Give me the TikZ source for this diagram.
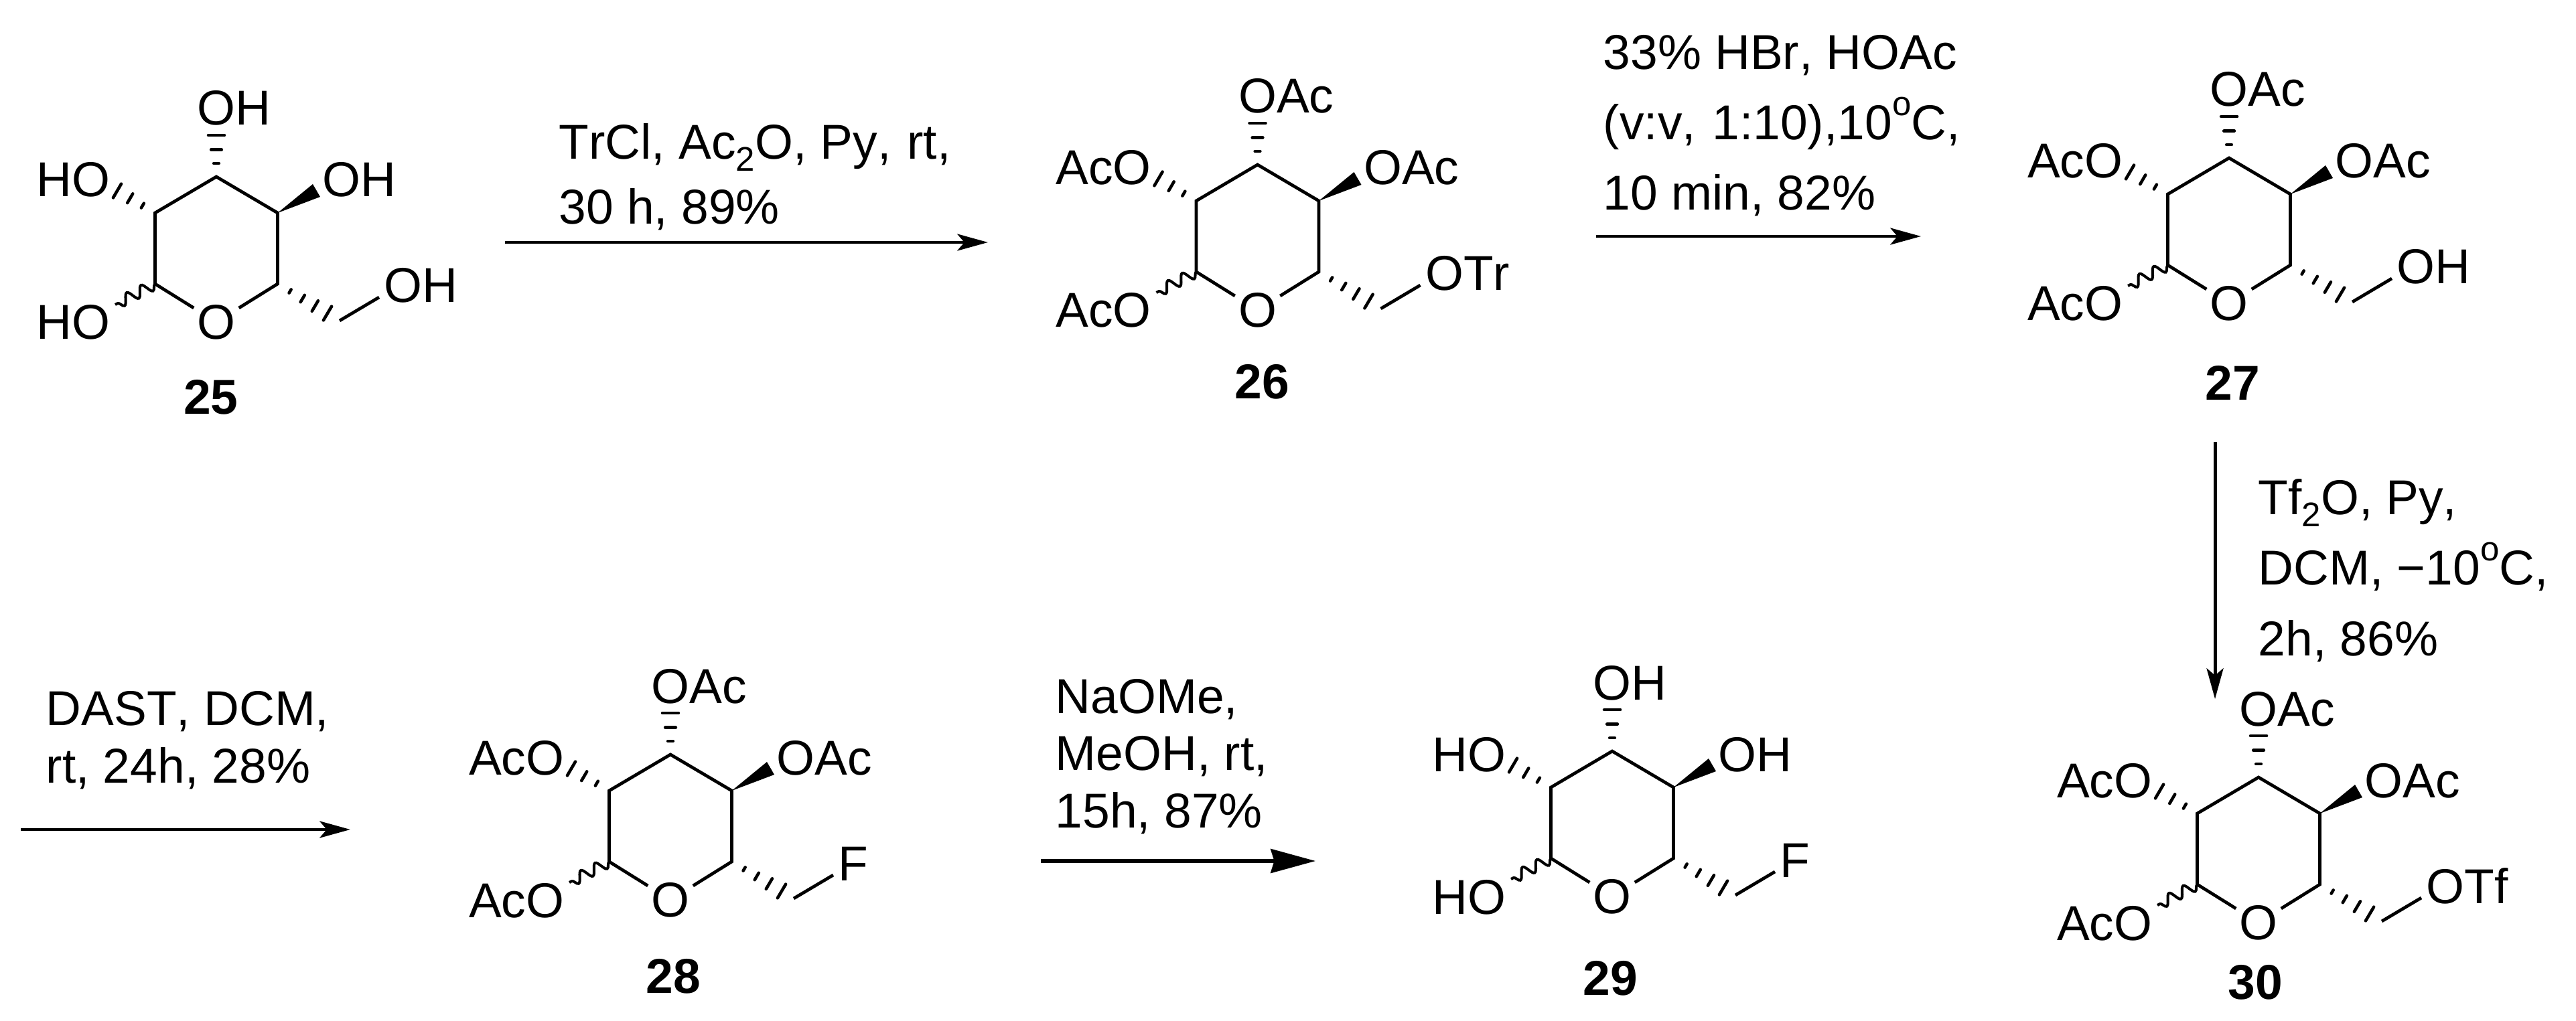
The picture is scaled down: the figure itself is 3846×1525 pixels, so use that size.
\documentclass[tikz,border=0pt]{standalone}
\usepackage{fontspec}
\setmainfont[Kerning=Off]{Liberation Sans}
\usetikzlibrary{calc}
\usetikzlibrary{arrows.meta}
\usetikzlibrary{decorations.pathmorphing}

\newcommand{\chemfont}{\fontsize{20.8}{25}\selectfont}
\newcommand{\lowtwo}{\raisebox{-0.24em}{\fontsize{14.5}{14.5}\selectfont 2}}
\newcommand{\highoh}{\raisebox{0.5em}{\fontsize{14.5}{14.5}\selectfont o}}

\tikzset{
    bond/.style={line width=1.35pt},
    hashline/.style={line width=1.3pt, line cap=round},
    wavybond/.style={line width=1.15pt, decorate, decoration={snake, amplitude=0.08cm, segment length=0.24cm}},
    atomtext/.style={inner sep=0pt, font=\chemfont},
    ringoxygen/.style={circle, inner sep=0pt, minimum size=0.78cm, font=\chemfont},
    molnumber/.style={inner sep=0pt, font=\chemfont\bfseries},
    reagent/.style={inner sep=0pt, align=left, anchor=base west},
    rxnarrow/.style={line width=1.4pt, -{Stealth[length=13pt, width=7.1pt, inset=3pt]}},
    bigarrow/.style={line width=1.5pt, -{Stealth[length=19pt, width=10.2pt, inset=1.5pt]}}
}

% #1 from, #2 to, #3 positions of the strokes along the bond
\newcommand{\hashbond}[3]{
    \foreach \f in {#3} {
        \coordinate (hashmid) at ($(#1)!\f!(#2)$);
        \draw[hashline] ($(hashmid)!\f*0.12cm!90:(#1)$) -- ($(hashmid)!\f*0.12cm!-90:(#1)$);
    }
}

% #1 name, #2 #3 top carbon, #4 top, #5 left, #6 right, #7 lower left, #8 side chain
\newcommand{\sugar}[8]{
    \begin{scope}[shift={(#2,#3)}]
        \coordinate (#1c1) at (0,0);
        \coordinate (#1c2) at (91.5,54);
        \coordinate (#1c3) at (91.5,160);
        \coordinate (#1c4) at (-91.5,160);
        \coordinate (#1c5) at (-91.5,54);
        \node[ringoxygen] (#1o) at (0,217) {O};
        \draw[bond] (#1o) -- (#1c3) -- (#1c2) -- (#1c1) -- (#1c5) -- (#1c4) -- (#1o);

        \node[atomtext, anchor=base west] (#1top) at (-29,-77) {#4};
        \coordinate (#1tophash) at (0,-62);
        \hashbond{#1c1}{#1tophash}{0.32,0.65,1}

        \node[atomtext, anchor=base east] (#1left) at (-158,30) {#5};
        \coordinate (#1lefthash) at (-148,21);
        \hashbond{#1c5}{#1lefthash}{0.33,0.66,1}

        \node[atomtext, anchor=base west] (#1right) at (158,30) {#6};
        \fill (#1c2) -- (144,11) -- (155,30) -- cycle;

        \node[atomtext, anchor=base east] (#1low) at (-158,243) {#7};
        \coordinate (#1wave) at (-151,191);
        \draw[wavybond] (#1c4) -- (#1wave);

        \node[atomtext, anchor=base west] (#1tail) at (250,188) {#8};
        \coordinate (#1tailhash) at (166,204);
        \hashbond{#1c3}{#1tailhash}{0.25,0.5,0.75,1}
        \coordinate (#1ch) at (184,215);
        \coordinate (#1chend) at (243,180);
        \draw[bond] (#1ch) -- (#1chend);
    \end{scope}
}

\begin{document}
\begin{tikzpicture}[x=0.01cm, y=-0.01cm]
        \useasboundingbox (0,0) rectangle (3846,1525);

        % Molecules
        \sugar{a}{323}{264}{OH}{HO}{OH}{HO}{OH}
        \sugar{b}{1877.5}{246}{OAc}{AcO}{OAc}{AcO}{OTr}
        \sugar{c}{3328}{236}{OAc}{AcO}{OAc}{AcO}{OH}
        \sugar{d}{1001}{1127}{OAc}{AcO}{OAc}{AcO}{F}
        \sugar{e}{2407}{1122}{OH}{HO}{OH}{HO}{F}
        \sugar{f}{3372}{1161}{OAc}{AcO}{OAc}{AcO}{OTf}

        \node[molnumber] (num25) at (315,593) {25};
        \node[molnumber] (num26) at (1884,570) {26};
        \node[molnumber] (num27) at (3333,572) {27};
        \node[molnumber] (num28) at (1005,1458) {28};
        \node[molnumber] (num29) at (2404,1461) {29};
        \node[molnumber] (num30) at (3367,1467) {30};

        % Reagents
        \node[reagent, font=\fontsize{20.8}{27.6}\selectfont] (trityl) at (834,335)
            {TrCl, Ac\lowtwo O, Py,\ \hspace{0.05em}rt,\\30 h, 89\%};
        \node[reagent, font=\fontsize{20.8}{29.9}\selectfont] (hbr) at (2393,314)
            {33\% HBr, HOAc\\(v:v,\ \hspace{0.06em}1:10),10\highoh C,\\10 min, 82\%};
        \node[reagent, font=\fontsize{20.8}{29.9}\selectfont] (triflate) at (3371,979)
            {Tf\lowtwo O, Py,\\DCM, −10\highoh C,\\2h, 86\%};
        \node[reagent, font=\fontsize{20.8}{24.2}\selectfont] (dast) at (68,1169)
            {DAST, DCM,\\rt, 24h, 28\%};
        \node[reagent, font=\fontsize{20.8}{24.2}\selectfont] (methoxide) at (1575,1236)
            {NaOMe,\\MeOH, rt,\\15h, 87\%};

        % Arrows
        \coordinate (arrowAs) at (754,362);
        \coordinate (arrowAe) at (1475,362);
        \coordinate (arrowBs) at (2383,353);
        \coordinate (arrowBe) at (2868,353);
        \coordinate (arrowCs) at (3307,660);
        \coordinate (arrowCe) at (3307,1044);
        \coordinate (arrowDs) at (31,1239);
        \coordinate (arrowDe) at (523,1239);
        \coordinate (arrowEs) at (1554,1286);
        \coordinate (arrowEe) at (1964,1286);
        \draw[rxnarrow] (arrowAs) -- (arrowAe);
        \draw[rxnarrow] (arrowBs) -- (arrowBe);
        \draw[rxnarrow] (arrowCs) -- (arrowCe);
        \draw[rxnarrow] (arrowDs) -- (arrowDe);
        \draw[bigarrow] (arrowEs) -- (arrowEe);
\end{tikzpicture}
\end{document}
